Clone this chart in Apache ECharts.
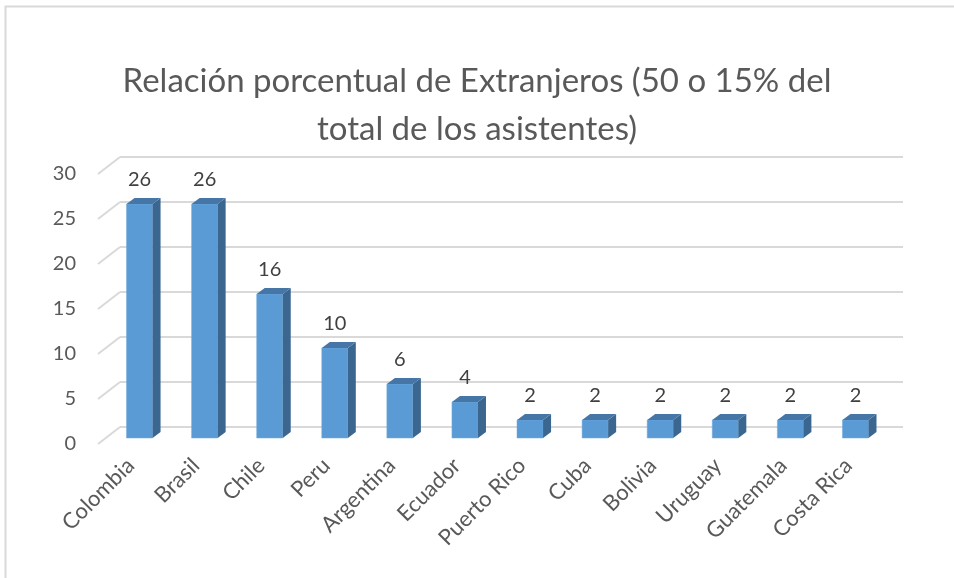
<!DOCTYPE html>
<html>
<head>
<meta charset="utf-8">
<script src="https://cdn.jsdelivr.net/npm/echarts@6/dist/echarts.min.js"></script>
<style>
  html, body { margin: 0; padding: 0; background: #fff; }
  #chart { width: 954px; height: 578px; }
</style>
</head>
<body>
<div id="chart"></div>
<script>
// datos
var paises = ["Colombia", "Brasil", "Chile", "Peru", "Argentina", "Ecuador",
  "Puerto Rico", "Cuba", "Bolivia", "Uruguay", "Guatemala", "Costa Rica"];
var valores = [26, 26, 16, 10, 6, 4, 2, 2, 2, 2, 2, 2];
var marcas = [0, 5, 10, 15, 20, 25, 30];

var chart = echarts.init(document.getElementById("chart"));

var fuente = "Lato, 'Open Sans', sans-serif";
var gris = "#595959";
var lineaGris = "#d9d9d9";
// profundidad del efecto 3D (px)
var fondoX = 22, fondoY = -17;
var barraX = 8, barraY = -6;

var option = {
  animation: false,
  title: {
    text: "Relación porcentual de Extranjeros (50 o 15% del\ntotal de los asistentes)",
    left: "center",
    top: 52,
    textStyle: {
      fontFamily: fuente,
      fontSize: 33,
      fontWeight: "normal",
      color: gris,
      lineHeight: 48
    }
  },
  graphic: [{
    type: "rect",
    shape: { x: 5.5, y: 6.5, width: 1000, height: 1000 },
    style: { fill: "none", stroke: lineaGris, lineWidth: 2 },
    silent: true
  }],
  grid: [
    // plano frontal (etiquetas de los ejes y diagonales)
    { left: 98, right: 73, top: 174, bottom: 134 },
    // plano de las barras
    { left: 107, right: 66, top: 168, bottom: 140 },
    // pared del fondo
    { left: 120, right: 51, top: 157, bottom: 151 }
  ],
  xAxis: [
    {
      gridIndex: 0, type: "category", data: paises,
      axisLine: { show: false }, axisTick: { show: false },
      axisLabel: {
        rotate: 45, margin: 18, interval: 0,
        fontFamily: fuente, fontSize: 22, color: gris
      }
    },
    { gridIndex: 1, type: "category", data: paises, show: false },
    { gridIndex: 2, type: "category", data: paises, show: false }
  ],
  yAxis: [
    {
      gridIndex: 0, type: "value", min: 0, max: 30, interval: 5,
      axisLine: { show: false }, axisTick: { show: false },
      splitLine: { show: false },
      axisLabel: { margin: 22, fontFamily: fuente, fontSize: 20, color: gris }
    },
    {
      gridIndex: 1, type: "value", min: 0, max: 30, interval: 5,
      axisLine: { show: false }, axisTick: { show: false },
      splitLine: { show: false }, axisLabel: { show: false }
    },
    {
      gridIndex: 2, type: "value", min: 0, max: 30, interval: 5,
      axisLine: { show: false }, axisTick: { show: false },
      axisLabel: { show: false },
      splitLine: { show: true, lineStyle: { color: lineaGris, width: 2 } }
    }
  ],
  series: [
    {
      // diagonales de la pared lateral
      type: "custom",
      xAxisIndex: 0, yAxisIndex: 0,
      silent: true,
      data: marcas.map(function (m) { return [0, m]; }),
      renderItem: function (params, api) {
        var p = api.coord([0, api.value(1)]);
        var x0 = p[0] - api.size([1, 0])[0] / 2;
        return {
          type: "line",
          shape: { x1: x0, y1: p[1], x2: x0 + fondoX, y2: p[1] + fondoY },
          style: { stroke: lineaGris, lineWidth: 2 }
        };
      }
    },
    {
      type: "custom",
      xAxisIndex: 1, yAxisIndex: 1,
      data: valores.map(function (v, i) { return [i, v]; }),
      renderItem: function (params, api) {
        var i = api.value(0);
        var top = api.coord([i, api.value(1)]);
        var base = api.coord([i, 0]);
        var w = api.size([1, 0])[0] * 0.4;
        var x1 = top[0] - w / 2, x2 = top[0] + w / 2;
        var yt = top[1], yb = base[1];
        return {
          type: "group",
          children: [
            {
              type: "rect",
              shape: { x: x1, y: yt, width: w, height: yb - yt },
              style: { fill: "#5b9bd5", stroke: "#6fa8dc", lineWidth: 0.5 }
            },
            {
              type: "polygon",
              shape: { points: [[x2, yt], [x2 + barraX, yt + barraY], [x2 + barraX, yb + barraY], [x2, yb]] },
              style: { fill: "#3a6690" }
            },
            {
              type: "polygon",
              shape: { points: [[x1, yt], [x2, yt], [x2 + barraX, yt + barraY], [x1 + barraX, yt + barraY]] },
              style: { fill: "#4676a6" }
            },
            {
              type: "text",
              style: {
                text: String(api.value(1)),
                x: top[0], y: yt + barraY - 8,
                align: "center", verticalAlign: "bottom",
                fontFamily: fuente, fontSize: 20, fill: "#404040"
              }
            }
          ]
        };
      }
    }
  ]
};

chart.setOption(option);
</script>
</body>
</html>
